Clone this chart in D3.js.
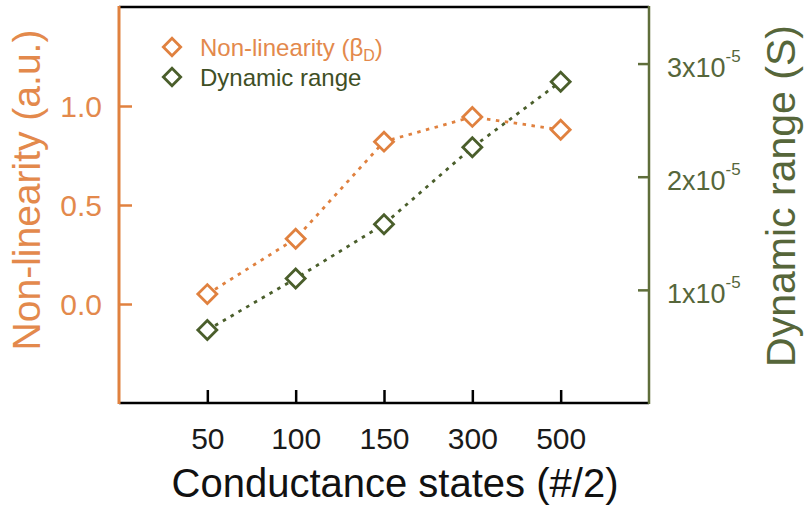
<!DOCTYPE html>
<html><head><meta charset="utf-8">
<script src="https://cdn.jsdelivr.net/npm/d3@7"></script>
<style>body{margin:0;background:#fff}svg{display:block}text{font-family:'Liberation Sans',Arial,sans-serif}</style>
</head><body><svg id="c" width="805" height="517"></svg>
<script>
const categories = ["50","100","150","300","500"];
const nonLinearity = [0.05, 0.33, 0.82, 0.945, 0.88];
const dynamicRange = [0.645e-5, 1.10e-5, 1.58e-5, 2.26e-5, 2.84e-5];
const leftTicks = [0, 0.5, 1.0];
const leftTickLabels = ["0.0","0.5","1.0"];
const rightTicks = [1e-5, 2e-5, 3e-5];
const rightTickLabels = [["1x10","-5"],["2x10","-5"],["3x10","-5"]];

const orange = "#E0813F", orangeText = "#E3894C";
const green = "#4A5E2B", greenAxis = "#5F6E3A", greenText = "#56663A";
const L = 119, R = 649, T = 7, B = 403;
const svg = d3.select("#c");

const x = d3.scalePoint().domain(categories).range([L, R]).padding(1);
const yL = d3.scaleLinear().domain([-0.5, 1.5]).range([B, T]);
const yR = d3.scaleLinear().domain([0, 3.5e-5]).range([B, T]);

// top border
svg.append("line").attr("x1", L).attr("x2", R).attr("y1", T).attr("y2", T).attr("stroke", "#000").attr("stroke-width", 2.5);

// bottom axis
const gx = svg.append("g").attr("transform", `translate(0,${B})`)
  .call(d3.axisBottom(x).tickSize(-13).tickSizeOuter(0));
gx.select(".domain").attr("stroke", "#000").attr("stroke-width", 2.5).attr("d", `M${L},0H${R}`);
gx.selectAll(".tick line").attr("stroke", "#000").attr("stroke-width", 2.5);
gx.selectAll(".tick text").attr("font-size", 30).attr("fill", "#1a1a1a").attr("dy", null).attr("y", 46);

// left axis
const gl = svg.append("g").attr("transform", `translate(${L},0)`)
  .call(d3.axisLeft(yL).tickValues(leftTicks).tickFormat((d,i)=>leftTickLabels[i]).tickSize(-13).tickSizeOuter(0));
gl.select(".domain").attr("stroke", orange).attr("stroke-width", 3).attr("d", `M0,${T-1}V${B+1}`);
gl.selectAll(".tick line").attr("stroke", orange).attr("stroke-width", 2.5);
gl.selectAll(".tick text").attr("font-size", 30).attr("fill", orangeText).attr("x", -17).attr("dy", "0.36em");

// right axis
const gr = svg.append("g").attr("transform", `translate(${R},0)`)
  .call(d3.axisRight(yR).tickValues(rightTicks).tickFormat("").tickSize(-11).tickSizeOuter(0));
gr.select(".domain").attr("stroke", greenAxis).attr("stroke-width", 2.5).attr("d", `M0,${T-1}V${B+1}`);
gr.selectAll(".tick line").attr("stroke", greenAxis).attr("stroke-width", 2.5);
gr.selectAll(".tick").each(function(d, i){
  const t = d3.select(this).append("text").attr("x", 18).attr("y", 13).attr("fill", greenText).attr("font-size", 27).attr("text-anchor","start");
  t.append("tspan").text(rightTickLabels[i][0]);
  t.append("tspan").attr("font-size", 17).attr("dy", -15).text(rightTickLabels[i][1]);
});

// axis titles
svg.append("text").attr("transform", `translate(40,190) rotate(-90)`).attr("text-anchor","middle")
  .attr("font-size", 39).attr("fill", orangeText).text("Non-linearity (a.u.)");
svg.append("text").attr("transform", `translate(795,196) rotate(-90)`).attr("text-anchor","middle")
  .attr("font-size", 41).attr("fill", greenText).text("Dynamic range (S)");
svg.append("text").attr("x", 395).attr("y", 497).attr("text-anchor","middle")
  .attr("font-size", 40).attr("fill", "#111").text("Conductance states (#/2)");

const diamond = d3.symbol().type(d3.symbolSquare).size(180);

function series(vals, yS, col){
  const line = d3.line().x((d,i)=>x(categories[i])).y(d=>yS(d));
  svg.append("path").datum(vals).attr("d", line).attr("fill","none").attr("stroke", col)
    .attr("stroke-width", 2.8).attr("stroke-dasharray", "3.5,5.5");
  svg.selectAll(null).data(vals).enter().append("path")
    .attr("d", diamond)
    .attr("transform", (d,i)=>`translate(${x(categories[i])},${yS(d)}) rotate(45)`)
    .attr("fill", "#fff").attr("stroke", col).attr("stroke-width", 2.8);
}
series(nonLinearity, yL, orange);
series(dynamicRange, yR, green);

// legend
const leg = [{t:"Non-linearity (β", sub:"D", tail:")", c:orange, tc:orangeText, y:47},
             {t:"Dynamic range", c:green, tc:"#3f4f25", y:77}];
leg.forEach(l=>{
  svg.append("path").attr("d", d3.symbol().type(d3.symbolSquare).size(150)())
    .attr("transform", `translate(172,${l.y}) rotate(45)`).attr("fill","#fff").attr("stroke", l.c).attr("stroke-width", 2.8);
  const t = svg.append("text").attr("x", 200).attr("y", l.y + 9).attr("font-size", 24).attr("fill", l.tc);
  t.append("tspan").text(l.t);
  if (l.sub){
    t.append("tspan").attr("font-size", 16).attr("dy", 5).text(l.sub);
    t.append("tspan").attr("dy", -5).text(l.tail);
  }
});
</script></body></html>
